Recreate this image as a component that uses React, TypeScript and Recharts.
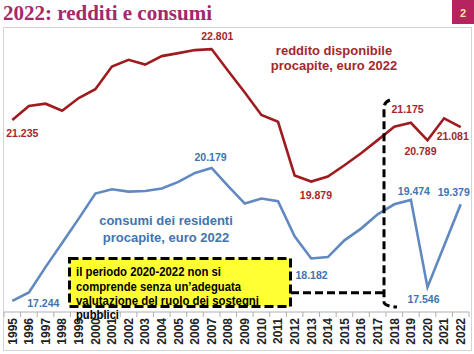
import { LineChart, Line, XAxis, YAxis, LabelList } from "recharts"

const years = [
  "1995", "1996", "1997", "1998", "1999", "2000", "2001", "2002", "2003", "2004",
  "2005", "2006", "2007", "2008", "2009", "2010", "2011", "2012", "2013", "2014",
  "2015", "2016", "2017", "2018", "2019", "2020", "2021", "2022",
]

// reddito disponibile procapite, euro 2022
const reddito = [
  21235, 21545, 21596, 21441, 21722, 21915, 22416, 22564, 22460, 22646,
  22712, 22779, 22801, 22316, 21842, 21346, 21197, 20012, 19879, 19990,
  20238, 20504, 20792, 21087, 21175, 20789, 21273, 21081,
]

// consumi dei residenti procapite, euro 2022
const consumi = [
  17244, 17432, 17990, 18520, 19060, 19613, 19708, 19657, 19671, 19724,
  19870, 20069, 20179, 19775, 19392, 19503, 19443, 18670, 18182, 18212,
  18581, 18840, 19156, 19377, 19474, 17546, 18460, 19379,
]

const yDomain = [17000, 23200]

const data = years.map((y, i) => ({ year: y, reddito: reddito[i], consumi: consumi[i] }))

const RED = "#9e1c20"
const RED_TEXT = "#a3282b"
const BLUE = "#6089c1"
const BLUE_TEXT = "#3f74b0"

// labelled points: index -> offset of label centre from the point
const redLabelPos: Record<number, [number, number]> = {
  0: [10, 13.3],
  12: [5.7, -12.6],
  18: [4.7, 14],
  24: [-3.3, -14],
  25: [-7, 11.4],
  27: [-8, 9.6],
}
const blueLabelPos: Record<number, [number, number]> = {
  0: [31, 2.6],
  12: [-1, -11],
  18: [0.3, 16.7],
  24: [3, -8.3],
  25: [-4, 11.6],
  27: [-7, -11.6],
}

const fmt = (v: number) => `${Math.floor(v / 1000)}.${String(v % 1000).padStart(3, "0")}`

function makeLabel(values: number[], pos: Record<number, [number, number]>, color: string) {
  return (props: any) => {
    const { x, y, value } = props
    const i = props.index ?? values.indexOf(value)
    const off = pos[i]
    if (!off) return null
    return (
      <text
        x={x + off[0]}
        y={y + off[1] + 3.8}
        textAnchor="middle"
        fontFamily="Arial, 'Liberation Sans', sans-serif"
        fontWeight="bold"
        fontSize={10.5}
        fill={color}
      >
        {fmt(value)}
      </text>
    )
  }
}

const HALF = 8.3

function YearTick(props: any) {
  const { x, y, payload, index } = props
  return (
    <g>
      <line x1={x - HALF} x2={x - HALF} y1={y - 5} y2={y} stroke="#b0b0b0" />
      {index === years.length - 1 && <line x1={x + HALF} x2={x + HALF} y1={y - 5} y2={y} stroke="#b0b0b0" />}
      <text
        transform={`translate(${x + 4.3},${y + 1}) rotate(-90)`}
        textAnchor="end"
        fontFamily="Arial, 'Liberation Sans', sans-serif"
        fontWeight="bold"
        fontSize={12}
        fill="#222"
      >
        {payload.value}
      </text>
    </g>
  )
}

const textFont = "Arial, 'Liberation Sans', sans-serif"

export default function App() {
  return (
    <div style={{ position: "absolute", left: 0, top: 0, width: 474, height: 354, background: "#fff" }}>
      <svg width={474} height={354} style={{ position: "absolute", left: 0, top: 0 }}>
        <rect x={3.5} y={27.5} width={468} height={323} fill="#fff" stroke="#d4d4d4" />
      </svg>
      <div style={{ position: "absolute", left: 0, top: 0 }}>
        <LineChart width={474} height={354} data={data} margin={{ top: 31, right: 5, bottom: 0, left: 4 }}>
          <XAxis
            dataKey="year"
            height={42}
            padding={{ left: HALF, right: HALF }}
            stroke="#b0b0b0"
            tickLine={false}
            tickSize={5}
            tickMargin={0}
            interval={0}
            tick={<YearTick />}
          />
          <YAxis hide domain={yDomain} type="number" allowDataOverflow />
          <Line
            dataKey="reddito"
            stroke={RED}
            strokeWidth={2.6}
            dot={false}
            type="linear"
            isAnimationActive={false}
          >
            <LabelList dataKey="reddito" content={makeLabel(reddito, redLabelPos, RED_TEXT)} />
          </Line>
          <Line
            dataKey="consumi"
            stroke={BLUE}
            strokeWidth={2.6}
            dot={false}
            type="linear"
            isAnimationActive={false}
          >
            <LabelList dataKey="consumi" content={makeLabel(consumi, blueLabelPos, BLUE_TEXT)} />
          </Line>
        </LineChart>
      </div>
      <svg width={474} height={354} style={{ position: "absolute", left: 0, top: 0, pointerEvents: "none" }}>
        <text x={3} y={20} fontFamily="'Liberation Serif', 'Times New Roman', serif" fontWeight="bold" fontSize={21} fill="#a3296b">
          2022: redditi e consumi
        </text>
        <rect x={452} y={0} width={22} height={24} fill="#b5245e" />
        <text x={463} y={17} textAnchor="middle" fontFamily={textFont} fontWeight="bold" fontSize={11} fill="#ffe7a0">
          2
        </text>

        <text x={334} y={54.5} textAnchor="middle" fontFamily={textFont} fontWeight="bold" fontSize={13} fill={RED_TEXT}>
          reddito disponibile
        </text>
        <text x={334} y={70} textAnchor="middle" fontFamily={textFont} fontWeight="bold" fontSize={13} fill={RED_TEXT}>
          procapite, euro 2022
        </text>
        <text x={166} y={225} textAnchor="middle" fontFamily={textFont} fontWeight="bold" fontSize={13} fill={BLUE_TEXT}>
          consumi dei residenti
        </text>
        <text x={166} y={241.5} textAnchor="middle" fontFamily={textFont} fontWeight="bold" fontSize={13} fill={BLUE_TEXT}>
          procapite, euro 2022
        </text>

        <path d="M291,292.7 L384,292.7" stroke="#000" strokeWidth={3} strokeDasharray="8 4" fill="none" />
        <path d="M390,100 Q384,102 384,108 L384,302 Q384,306 397,307" stroke="#000" strokeWidth={3} strokeDasharray="8 4" fill="none" />
        <rect x={69.5} y={258.5} width={221} height={48} fill="#ffff33" stroke="#000" strokeWidth={3} strokeDasharray="9 4" />
        <g fontFamily={textFont} fontWeight="bold" fontSize={13} fill="#000">
          <text x={76} y={276} textLength={145} lengthAdjust="spacingAndGlyphs">il periodo 2020-2022 non si</text>
          <text x={76} y={290.5} textLength={165} lengthAdjust="spacingAndGlyphs">comprende senza un’adeguata</text>
          <text x={76} y={305} textLength={183} lengthAdjust="spacingAndGlyphs">valutazione del ruolo dei sostegni</text>
          <text x={76} y={318.5} textLength={43} lengthAdjust="spacingAndGlyphs">pubblici</text>
        </g>
      </svg>
    </div>
  )
}
